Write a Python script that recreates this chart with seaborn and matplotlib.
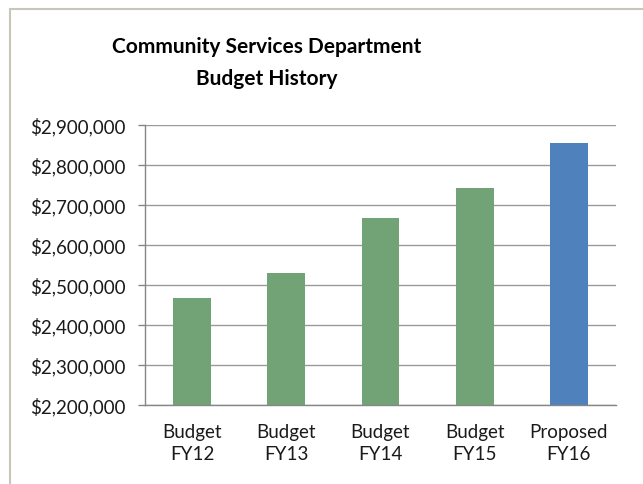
import matplotlib
matplotlib.use("Agg")
import matplotlib.pyplot as plt
from matplotlib.patches import Rectangle
from matplotlib.ticker import FuncFormatter, FixedLocator
import seaborn as sns
import pandas as pd

categories = ["Budget\nFY12", "Budget\nFY13", "Budget\nFY14", "Budget\nFY15", "Proposed\nFY16"]
budget = [2466000, 2529000, 2668000, 2742000, 2855000]
bar_colors = ["#72A376", "#72A376", "#72A376", "#72A376", "#4F81BD"]
y_ticks = [2200000, 2300000, 2400000, 2500000, 2600000, 2700000, 2800000, 2900000]

sns.set_theme(style="white")
plt.rcParams["font.family"] = ["Lato", "DejaVu Sans"]

df = pd.DataFrame({"category": categories, "budget": budget})

fig = plt.figure(figsize=(6.43, 4.85), dpi=100)
ax = fig.add_axes([145 / 643, 1 - 405.7 / 485, 471 / 643, 279.7 / 485])

sns.barplot(data=df, x="category", y="budget", hue="category",
            palette=bar_colors, width=0.4, legend=False, ax=ax,
            saturation=1, linewidth=0)

ax.set_ylim(y_ticks[0], y_ticks[-1])
ax.set_xlim(-0.5, len(categories) - 0.5)
ax.yaxis.set_major_locator(FixedLocator(y_ticks))
ax.yaxis.set_major_formatter(FuncFormatter(lambda v, p: f"${v:,.0f}"))
ax.set_xlabel("")
ax.set_ylabel("")

# horizontal gridlines behind the bars
ax.set_axisbelow(True)
ax.yaxis.grid(True, color="#9A9A9A", linewidth=1.0)
ax.xaxis.grid(False)

for side in ["top", "right"]:
    ax.spines[side].set_visible(False)
for side in ["left", "bottom"]:
    ax.spines[side].set_color("#868686")
    ax.spines[side].set_linewidth(1.0)

# category boundary ticks on the x axis, labels centred under the bars
ax.set_xticks([i - 0.5 for i in range(len(categories) + 1)], minor=True)
ax.tick_params(axis="x", which="minor", length=5, width=1, color="#868686", direction="out")
ax.tick_params(axis="x", which="major", length=0, pad=13, labelsize=13.5, labelcolor="#1a1a1a")
ax.tick_params(axis="y", which="major", length=5, width=1, color="#868686", direction="out",
               left=True, pad=9, labelsize=13.5, labelcolor="#1a1a1a")
for lbl in ax.get_xticklabels():
    lbl.set_linespacing(1.4)

fig.text(267 / 643, 1 - 63 / 485, "Community Services Department\nBudget History",
         ha="center", va="center", fontsize=15, fontweight="bold",
         linespacing=1.7, color="black")

# chart area border
fig.patches.append(Rectangle((9.5 / 643, -0.1), 1.2, 1 - 9.5 / 485 + 0.1,
                             transform=fig.transFigure, fill=False,
                             edgecolor="#C9C6B9", linewidth=1.5))

fig.savefig("out.png", dpi=100)
